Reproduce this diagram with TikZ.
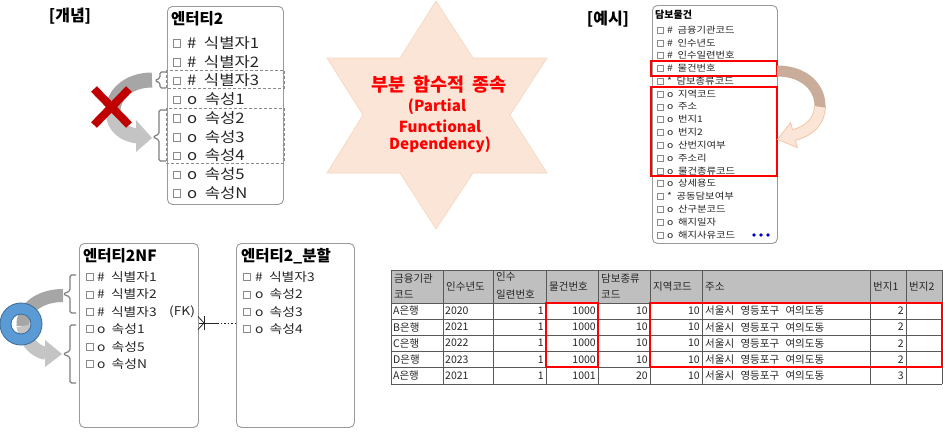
\documentclass[tikz,border=0pt]{standalone}
\usepackage{fontspec}
\setmainfont{Noto Sans CJK KR}
\newfontfamily\krw{Noto Sans CJK KR}[WordSpace=2.0, FakeStretch=1.15]
\newfontfamily\krs{Noto Sans CJK KR}[WordSpace=1.8]
\definecolor{entline}{HTML}{9A9A9A}
\definecolor{cbline}{HTML}{8A8A8A}
\definecolor{brkc}{HTML}{7F7F7F}
\definecolor{darkband}{HTML}{A6A6A6}
\definecolor{lightband}{HTML}{C4C4C4}
\definecolor{xred}{HTML}{C00000}
\definecolor{ringfill}{HTML}{5B9BD5}
\definecolor{ringline}{HTML}{41719C}
\definecolor{starfill}{HTML}{FBE5D6}
\definecolor{starline}{HTML}{F8D5C0}
\definecolor{tanc}{HTML}{C9AD9A}
\definecolor{peach}{HTML}{FBE5D6}
\definecolor{peachline}{HTML}{F4C7A8}
\definecolor{hdr}{HTML}{BFBFBF}
\definecolor{gridc}{HTML}{595959}
\definecolor{dotc}{HTML}{0000CC}
\definecolor{txt}{HTML}{262626}
\begin{document}
\begin{tikzpicture}[x=1pt,y=-1pt,
  ent/.style={draw=entline, line width=0.9pt, rounded corners=5pt, inner sep=0pt, anchor=north west},
  cbox/.style={draw=cbline, line width=0.5pt},
  big/.style={anchor=west, inner sep=0pt, text=txt, font=\krw\fontsize{14.5}{17}\selectfont},
  mid/.style={anchor=west, inner sep=0pt, text=txt, font=\krw\fontsize{12}{14}\selectfont},
  small/.style={anchor=west, inner sep=0pt, text=txt, font=\krw\fontsize{9}{11}\selectfont},
  ttl/.style={anchor=west, inner sep=0pt, font=\fontsize{15.5}{17}\selectfont\bfseries},
  lbl/.style={anchor=center, inner sep=0pt, font=\fontsize{16}{18}\selectfont\bfseries},
  startxt/.style={anchor=center, inner sep=0pt, text=red, font=\fontsize{15.2}{18}\selectfont\bfseries},
  dsh/.style={draw=cbline, line width=0.6pt, dash pattern=on 3pt off 2pt},
  brk/.style={draw=brkc, line width=1.2pt, rounded corners=1.5pt},
  redbox/.style={draw=red, line width=1.4pt},
  gridline/.style={draw=gridc, line width=0.9pt},
  tl/.style={anchor=west, inner sep=0pt, text=txt, font=\fontsize{10.5}{12}\selectfont},
  tr/.style={anchor=east, inner sep=0pt, text=txt, font=\fontsize{10.5}{12}\selectfont},
  conn/.style={draw=black!85, line width=0.8pt}
]
\useasboundingbox (0,0) rectangle (943,432);
\fill[white] (0,0) rectangle (943,432);

% ---------- labels
\node[lbl] (lab1) at (70,16) {[개념]};
\node[lbl] (lab2) at (608,19) {[예시]};

% ---------- star
\draw[fill=starfill, draw=starline, line width=0.6pt] (436,1) -- (473,58) -- (547,58) -- (510,115) -- (547,173) -- (473,173) -- (436,229) -- (400,173) -- (327,173) -- (363,115) -- (327,58) -- (400,58) -- cycle;
\node[startxt, font=\krs\fontsize{18.5}{20}\selectfont\bfseries] (s1) at (439,85) {부분 함수적 종속};
\node[startxt] (s2) at (437,107) {(Partial};
\node[startxt] (s3) at (440,126) {Functional};
\node[startxt] (s4) at (440,145) {Dependency)};

% ---------- top-left entity
\node[ent, minimum width=116pt, minimum height=198pt] (e2) at (167,6) {};
\node[ttl] (e2t) at (171,19) {엔터티2};
\foreach \t [count=\i from 0] in {{\# 식별자1},{\# 식별자2},{\# 식별자3},{o 속성1},{o 속성2},{o 속성3},{o 속성4},{o 속성5},{o 속성N}}{
  \pgfmathsetmacro\yy{43+18.75*\i}
  \draw[cbox] (173,{\yy-3.5}) rectangle (180.5,{\yy+4});
  \node[big] (e2r\i) at (187,\yy) {\t};
}
\draw[dsh] (166,70) rectangle (284,88);
\draw[dsh] (166,108) rectangle (284,163);
\draw[brk] (166,72) -- (160,72) -- (160,78) -- (155,80.5) -- (160,83) -- (160,88) -- (166,88);
\draw[brk] (166,110) -- (159,110) -- (159,134) -- (153,137) -- (159,140) -- (159,161) -- (166,161);

% curved arrow with X
\draw[darkband, line width=15pt] (152,80) .. controls (128,80) and (112,95) .. (113,113);
\draw[lightband, line width=15pt] (113,113) .. controls (114,127) and (125,135) .. (138,136);
\fill[lightband] (136,120) -- (152,138) -- (136,152) -- cycle;
\draw[xred, line width=8pt] (94,89) -- (129,125);
\draw[xred, line width=8pt] (129,89) -- (94,125);

% ---------- right entity
\node[ent, minimum width=125pt, minimum height=238pt] (db) at (652,5) {};
\node[ttl, font=\fontsize{10}{12}\selectfont\bfseries] (dbt) at (655,15) {담보물건};
\foreach \t [count=\i from 0] in {{\# 금융기관코드},{\# 인수년도},{\# 인수일련번호},{\# 물건번호},{* 담보종류코드},{o 지역코드},{o 주소},{o 번지1},{o 번지2},{o 산번지여부},{o 주소리},{o 물건종류코드},{o 상세용도},{* 공동담보여부},{o 산구분코드},{o 해지일자},{o 해지사유코드}}{
  \pgfmathsetmacro\yy{30+12.8*\i}
  \draw[cbox] (657,{\yy-3}) rectangle (663,{\yy+3});
  \node[small] (dbr\i) at (667,\yy) {\t};
}
\fill[dotc] (754,235) circle (1.8pt) (761,235) circle (1.8pt) (768,235) circle (1.8pt);
\draw[redbox] (651,61) rectangle (777,76);
\draw[redbox] (651,87) rectangle (777,176);

% orange curved arrow
\draw[tanc, line width=11pt] (777,71) .. controls (805,71) and (821,88) .. (820,108);
\draw[peachline, line width=12pt] (820,107) .. controls (819,122) and (809,131) .. (794,135);
\draw[fill=peach, draw=peachline, line width=0.8pt] (790.6,122.4) -- (777.6,139.4) -- (797.4,147.6) -- cycle;
\draw[peach, line width=10pt] (820,107) .. controls (819,122) and (809,131) .. (794,135) -- (791,135.8);

% ---------- bottom-left entity
\node[ent, minimum width=119pt, minimum height=184pt] (nf) at (79,243) {};
\node[ttl] (nft) at (83,256) {엔터티2NF};
\foreach \t [count=\i from 0] in {{\# 식별자1},{\# 식별자2},{\# 식별자3},{o 속성1},{o 속성5},{o 속성N}}{
  \pgfmathsetmacro\yy{277+17.4*\i}
  \draw[cbox] (86,{\yy-3.5}) rectangle (93,{\yy+3.5});
  \node[mid] (nfr\i) at (97,\yy) {\t};
}
\node[mid] (fk) at (169,311.8) {(FK)};

% ---------- split entity
\node[ent, minimum width=118pt, minimum height=184pt] (sp) at (236,243) {};
\node[ttl] (spt) at (241,256) {엔터티2\_분할};
\foreach \t [count=\i from 0] in {{\# 식별자3},{o 속성2},{o 속성3},{o 속성4}}{
  \pgfmathsetmacro\yy{277+17.4*\i}
  \draw[cbox] (243,{\yy-3.5}) rectangle (250,{\yy+3.5});
  \node[mid] (spr\i) at (255,\yy) {\t};
}

% connector
\coordinate (cm) at (217,323);
\draw[conn] (nf.east |- cm) -- (cm);
\draw[conn, dash pattern=on 1.5pt off 2pt] (cm) -- (sp.west |- cm);
\draw[conn] (198,316.5) -- (204,323) -- (198,329.5);
\draw[conn] (204,316) -- (204,330);

% bottom brackets and arrow
\draw[brk] (76,275) -- (70,275) -- (70,291) -- (63,294) -- (70,297) -- (70,313) -- (76,313);
\draw[brk] (76,325) -- (70,325) -- (70,351) -- (63,354) -- (70,357) -- (70,383) -- (76,383);
\draw[darkband, line width=13pt] (63,295.5) .. controls (38,295.5) and (22,310) .. (23,326);
\draw[lightband, line width=13pt] (23,326) .. controls (25,341) and (34,351) .. (46,353.5);
\fill[lightband] (45,340) -- (62,354) -- (45,367) -- cycle;
\fill[ringfill, even odd rule] (21,324) circle (21pt) (21,324) circle (10pt);
\draw[ringline, line width=0.9pt] (21,324) circle (21pt) (21,324) circle (10pt);

% ---------- table
\fill[hdr] (391,270) rectangle (942,303);
\foreach \x in {391,443,493,546,598,650,702,870,906,942} \draw[gridline] (\x,270) -- (\x,384);
\foreach \y in {270,303,319,335,351,367,384} \draw[gridline] (391,\y) -- (942,\y);
\node[tl] (h1a) at (394,278.5) {금융기관};
\node[tl] (h1b) at (394,295) {코드};
\node[tl] (h2) at (446,287) {인수년도};
\node[tl] (h3a) at (496,277) {인수};
\node[tl] (h3b) at (496,294) {일련번호};
\node[tl] (h4) at (549,287) {물건번호};
\node[tl] (h5a) at (601,278.5) {담보종류};
\node[tl] (h5b) at (601,295) {코드};
\node[tl] (h6) at (653,287) {지역코드};
\node[tl] (h7) at (705,287) {주소};
\node[tl] (h8) at (873,287) {번지1};
\node[tl] (h9) at (909,287) {번지2};
\foreach \b/\yr/\n/\t/\a [count=\i from 0] in {A은행/2020/1000/10/2, B은행/2021/1000/10/2, C은행/2022/1000/10/2, D은행/2023/1000/10/2, A은행/2021/1001/20/3}{
  \pgfmathsetmacro\yy{311+16.1*\i}
  \node[tl] (tb\i) at (393,\yy) {\b};
  \node[tl] (ty\i) at (445,\yy) {\yr};
  \node[tr] (ts\i) at (544,\yy) {1};
  \node[tr] (tn\i) at (596,\yy) {\n};
  \node[tr] (tt\i) at (648,\yy) {\t};
  \node[tr] (tz\i) at (700,\yy) {10};
  \node[tl] (ta\i) at (705,\yy) {서울시\hspace{4pt} 영등포구\hspace{4pt} 여의도동};
  \node[tr] (tj\i) at (904,\yy) {\a};
}
\draw[redbox] (546,303) rectangle (598,367);
\draw[redbox] (650,303) rectangle (942,367);
\end{tikzpicture}
\end{document}
